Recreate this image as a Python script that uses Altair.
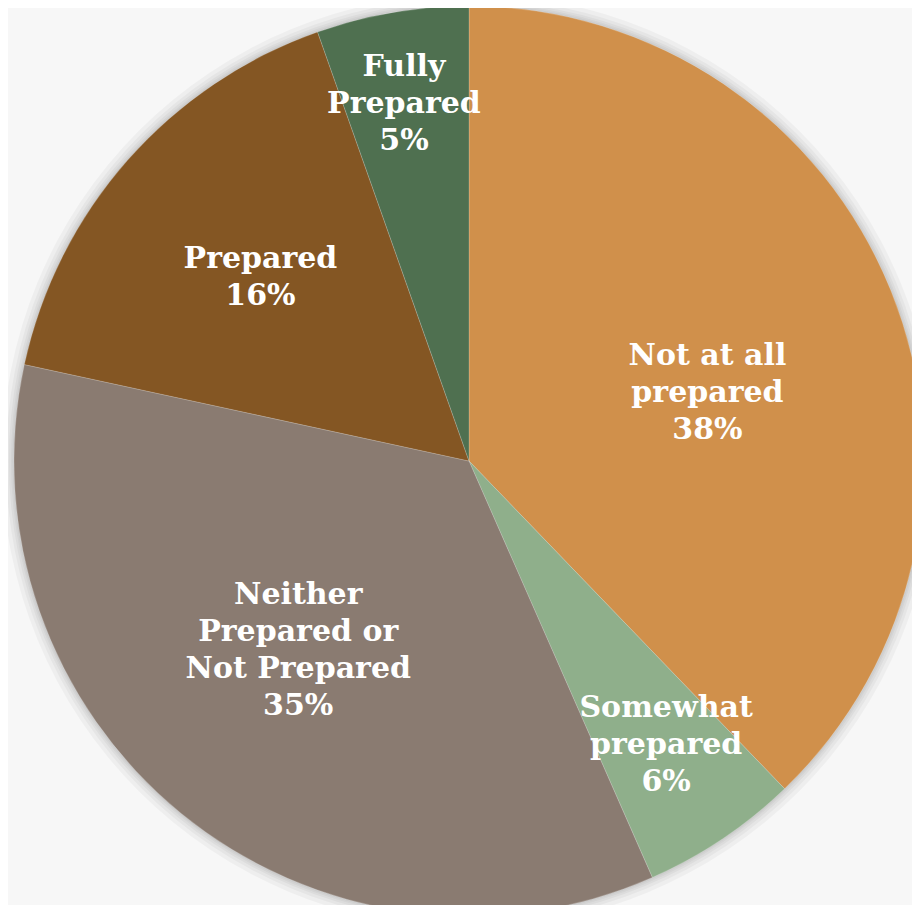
import altair as alt
import pandas as pd

# ---- data ----
categories = ["Not at all prepared", "Somewhat prepared",
              "Neither Prepared or Not Prepared", "Prepared", "Fully Prepared"]
label_lines = ["Not at all\nprepared", "Somewhat\nprepared",
               "Neither\nPrepared or\nNot Prepared", "Prepared", "Fully\nPrepared"]
values = [37.8, 5.6, 35.0, 16.2, 5.4]
pct_labels = ["38%", "6%", "35%", "16%", "5%"]

# ---- styling ----
colors = ["#D0904B", "#8FAF8B", "#8A7B71", "#845623", "#4F7050"]
label_radius = [248, 346, 255, 278, 363]
label_shift_deg = [6.0, -0.9, 2.8, 0.0, -0.6]

df = pd.DataFrame({
    "idx": list(range(len(categories))),
    "category": categories,
    "value": values,
    "label": [l + "\n" + p for l, p in zip(label_lines, pct_labels)],
    "lr": label_radius,
    "shift": label_shift_deg,
})

CX, CY, R = 461, 453, 455
W, H = 904, 897
LH = 37

base = alt.Chart(df)

# soft shadow glow around the pie
shadow_df = pd.DataFrame({"ring": [1, 2, 3, 4, 5], "rad": [467, 463, 460, 458, 456.5], "v": [1] * 5})
shadow = alt.Chart(shadow_df).mark_arc(color="#000000", opacity=0.035).encode(
    theta=alt.Theta("v:Q", stack=False, scale=alt.Scale(domain=[0, 1])),
    radius=alt.Radius("rad:Q", scale=None),
    detail="ring:N",
    x=alt.value(CX),
    y=alt.value(CY),
)

pie = base.mark_arc(radius=R, stroke="#FFFFFF", strokeWidth=0.6, strokeOpacity=0.3).encode(
    theta=alt.Theta("value:Q", stack=True),
    order=alt.Order("idx:Q"),
    color=alt.Color("category:N", scale=alt.Scale(domain=categories, range=colors), legend=None),
    x=alt.value(CX),
    y=alt.value(CY),
)

labels = base.transform_joinaggregate(
    total="sum(value)"
).transform_window(
    cum="sum(value)", sort=[alt.SortField("idx")], frame=[None, 0]
).transform_calculate(
    ang="(datum.cum - datum.value/2) / datum.total * 2 * PI + datum.shift * PI / 180",
    nlines="length(split(datum.label, '\\n'))",
).transform_calculate(
    lx=f"{CX} + datum.lr * sin(datum.ang)",
    ly=f"{CY} - datum.lr * cos(datum.ang) - (datum.nlines - 1) / 2 * {LH}",
).mark_text(
    font="DejaVu Serif", fontWeight="bold", fontSize=30, color="#FFFFFF",
    lineBreak="\n", lineHeight=LH, align="center", baseline="middle",
).encode(
    x=alt.X("lx:Q", scale=None),
    y=alt.Y("ly:Q", scale=None),
    text="label:N",
)

chart = alt.layer(shadow, pie, labels).resolve_scale(theta="independent").properties(
    width=W, height=H, autosize=alt.AutoSizeParams(type="none"), padding=0,
    background="#F7F7F7",
).configure_view(stroke=None)

chart.save("out.html", embed_options={"renderer": "svg", "actions": False})
